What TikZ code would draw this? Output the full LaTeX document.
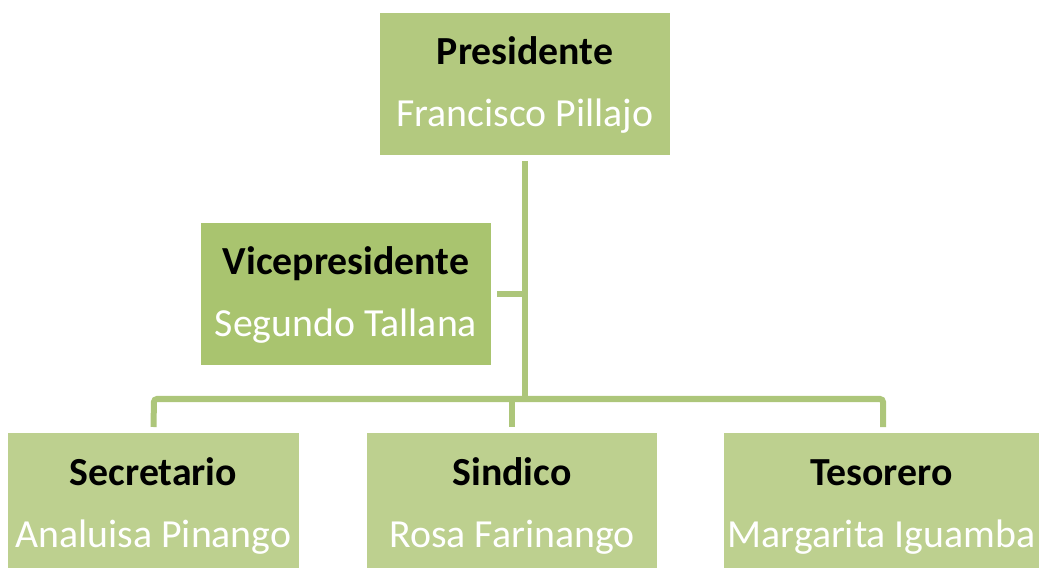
\documentclass[tikz,border=0pt]{standalone}
\usepackage{fontspec}
\setmainfont{Carlito}
\definecolor{presfill}{HTML}{B3C97F}
\definecolor{vicefill}{HTML}{A9C46F}
\definecolor{lowfill}{HTML}{BDD08F}
\definecolor{linecol}{HTML}{ADC67A}
\tikzset{
  box/.style={draw=none, inner sep=0pt, outer sep=0pt, anchor=north west},
  ttl/.style={anchor=base, inner sep=0pt, font=\fontsize{39.8}{46}\selectfont\bfseries, text=black},
  nme/.style={anchor=base, inner sep=0pt, font=\fontsize{39.8}{46}\selectfont, text=white},
  conn/.style={draw=linecol, line width=6pt, line cap=butt},
}
\begin{document}
\begin{tikzpicture}[x=1pt,y=-1pt]
\useasboundingbox (0,0) rectangle (1042,569);
% boxes
\node[box, fill=presfill, minimum width=290pt, minimum height=142pt] (pres) at (380,13) {};
\node[box, fill=vicefill, minimum width=290pt, minimum height=142pt] (vice) at (201,223) {};
\node[box, fill=lowfill, minimum width=291pt, minimum height=135pt] (sec) at (8,433) {};
\node[box, fill=lowfill, minimum width=290pt, minimum height=135pt] (sin) at (367,433) {};
\node[box, fill=lowfill, minimum width=315pt, minimum height=135pt] (tes) at (724,433) {};
% texts
\node[ttl] (presT) at (525,65) {Presidente};
\node[nme] (presN) at (525,127) {Francisco Pillajo};
\node[ttl] (viceT) at (346,275) {Vicepresidente};
\node[nme] (viceN) at (346,337) {Segundo Tallana};
\node[ttl] (secT) at (153.5,485) {Secretario};
\node[nme] (secN) at (153.5,547) {Analuisa Pinango};
\node[ttl] (sinT) at (512,485) {Sindico};
\node[nme] (sinN) at (512,547) {Rosa Farinango};
\node[ttl] (tesT) at (881.5,485) {Tesorero};
\node[nme] (tesN) at (881.5,547) {Margarita Iguamba};
% connectors
\coordinate (bus) at (525,399);
\coordinate (vj) at (525,294);
\coordinate (secB) at (154,399);
\coordinate (tesB) at (883,399);
\coordinate (sinB) at (512,399);
\draw[conn] ([yshift=-6pt]pres.south) -- ([yshift=3pt]bus);
\draw[conn] ([xshift=6pt]vice.east) -- (vj);
\draw[conn, rounded corners=3pt] ([yshift=6pt]sec.north) -- (secB) -- (tesB) -- ([xshift=1.5pt,yshift=6pt]tes.north);
\draw[conn] (sinB) -- ([yshift=6pt]sin.north);
\end{tikzpicture}
\end{document}
